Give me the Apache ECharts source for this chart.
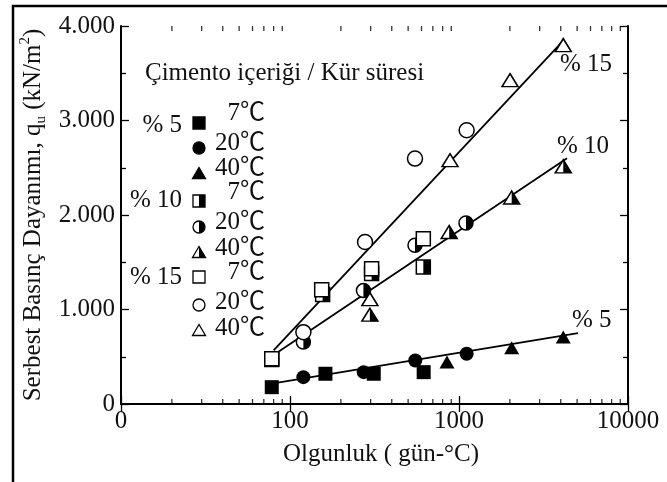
<!DOCTYPE html>
<html><head><meta charset="utf-8">
<script src="https://cdn.jsdelivr.net/npm/echarts@6/dist/echarts.min.js"></script>
<style>html,body{margin:0;padding:0;background:#fff}#c{width:667px;height:482px}</style>
</head><body><div id="c"></div>
<script>
const FONT = "'Liberation Serif','Times New Roman','Noto Sans CJK JP',serif";
const FS = 25;
const TXT = '#111';

// axis ticks / labels
const xTicks = [10, 100, 1000, 10000];
const xTickLabels = ['0', '100', '1000', '10000'];
const yTicks = [0, 1000, 2000, 3000, 4000];
const yTickLabels = ['0', '1.000', '2.000', '3.000', '4.000'];
const xMinorTicks = [20,30,40,50,60,70,80,90,200,300,400,500,600,700,800,900,2000,3000,4000,5000,6000,7000,8000,9000];

// data: [maturity (gün-°C), qu (kN/m2)]
const c5_t7   = [[78,178],[162,320],[313,320],[618,337]];
const c5_t20  = [[120,284],[273,337],[551,461],[1110,532]];
const c5_t40  = [[849,445],[2050,595],[4140,708]];
const c10_t7  = [[78,470],[156,1160],[304,1380],[615,1449]];
const c10_t20 = [[120,655],[272,1200],[549,1680],[1100,1915]];
const c10_t40 = [[297,945],[875,1820],[2050,2185],[4140,2515]];
const c15_t7  = [[78,478],[154,1210],[304,1430],[615,1750]];
const c15_t20 = [[120,760],[278,1714],[549,2597],[1110,2897]];
const c15_t40 = [[297,1110],[885,2580],[2004,3427],[4140,3798]];
// fitted lines
const fit5  = [[78,215],[5060,750]];
const fit10 = [[76,493],[4355,2601]];
const fit15 = [[80,567],[4064,3829]];

const chart = echarts.init(document.getElementById('c'));

const SQ = 14, CI = 14, TR = [16,13];
const HALF_SQ = 'path://M0,0L1,0L1,2L0,2Z';
const HALF_CI = 'path://M0,0A1,1 0 0 1 0,2Z';
const HALF_TR = 'path://M0,0L1,2L0,2Z';

function lineSeries(d) {
  return {type:'line', data:d, symbol:'none', silent:true, z:2,
    lineStyle:{color:'#000', width:1.8}};
}
function filled(d, sym, size) {
  return {type:'scatter', data:d, symbol:sym, symbolSize:size, z:5, silent:true,
    itemStyle:{color:'#000', opacity:1}};
}
function open(d, sym, size, z) {
  return {type:'scatter', data:d, symbol:sym, symbolSize:size, z:z||4, silent:true,
    itemStyle:{color:'#fff', borderColor:'#000', borderWidth:1.5, opacity:1}};
}
function half(d, sym, size, z) {
  return {type:'scatter', data:d, symbol:sym, symbolSize:[size[0]/2, size[1]],
    symbolOffset:[size[0]/4, 0], z:z, silent:true,
    itemStyle:{color:'#000', opacity:1}};
}

const series = [
  lineSeries(fit5), lineSeries(fit10), lineSeries(fit15),
  // % 10 (half filled)
  open(c10_t7, 'rect', SQ, 3), half(c10_t7, HALF_SQ, [SQ,SQ], 3.1),
  open(c10_t20, 'circle', CI, 3), half(c10_t20, HALF_CI, [CI,CI], 3.1),
  open(c10_t40, 'triangle', TR, 3), half(c10_t40, HALF_TR, TR, 3.1),
  // % 15 (open)
  open(c15_t7, 'rect', SQ, 4), open(c15_t20, 'circle', 15, 4), open(c15_t40, 'triangle', TR, 4),
  // % 5 (filled)
  filled(c5_t7, 'rect', SQ), filled(c5_t20, 'circle', CI), filled(c5_t40, 'triangle', [15,13]),
  // minor ticks on bottom / top x axes
  {type:'scatter', data:xMinorTicks.map(v=>[v,0]), symbol:'rect', symbolSize:[1.3,5],
    symbolOffset:[0,-2.5], clip:false, silent:true, z:6, itemStyle:{color:'#000'}},
  {type:'scatter', data:xMinorTicks.map(v=>[v,4000]), symbol:'rect', symbolSize:[1.3,5],
    symbolOffset:[0,2.5], clip:false, silent:true, z:6, itemStyle:{color:'#000'}}
];

// ---------- legend / annotations (graphic) ----------
const g = [];
function text(x, y, s, align, extra) {
  g.push(Object.assign({type:'text', x:x, y:y, z:10,
    style:{text:s, fontFamily:FONT, fontSize:FS, fill:TXT, align:align||'left', verticalAlign:'middle'}}, extra||{}));
}
const LX = 199, LS = 12;
function lgRect(y, mode) {
  g.push({type:'rect', z:10, shape:{x:LX-LS/2, y:y-LS/2, width:LS, height:LS},
    style:{fill: mode==='filled' ? '#000' : '#fff', stroke:'#000', lineWidth:1.3}});
  if (mode==='half') g.push({type:'rect', z:11, shape:{x:LX, y:y-LS/2, width:LS/2, height:LS}, style:{fill:'#000'}});
}
function lgCircle(y, mode) {
  g.push({type:'circle', z:10, shape:{cx:LX, cy:y, r:LS/2},
    style:{fill: mode==='filled' ? '#000' : '#fff', stroke:'#000', lineWidth:1.3}});
  if (mode==='half') g.push({type:'sector', z:11, shape:{cx:LX, cy:y, r:LS/2, startAngle:-Math.PI/2, endAngle:Math.PI/2}, style:{fill:'#000'}});
}
function lgTri(y, mode) {
  const w = 13, h = 11;
  g.push({type:'polygon', z:10, shape:{points:[[LX, y-h/2],[LX+w/2, y+h/2],[LX-w/2, y+h/2]]},
    style:{fill: mode==='filled' ? '#000' : '#fff', stroke:'#000', lineWidth:1.3}});
  if (mode==='half') g.push({type:'polygon', z:11, shape:{points:[[LX, y-h/2],[LX+w/2, y+h/2],[LX, y+h/2]]}, style:{fill:'#000'}});
}

text(145, 73, 'Çimento içeriği / Kür süresi');
const groupLabels = ['% 5', '% 10', '% 15'];
const groupY = [125, 200, 277];
const tempLabels = ['7℃', '20℃', '40℃'];
const tempY = [[113, 143, 168], [192, 222, 248], [272, 302, 328]];
const markY = [[123, 148, 173], [201, 227, 252], [277, 305, 330]];
const modes = ['filled', 'half', 'open'];
for (let i = 0; i < 3; i++) {
  text(182, groupY[i], groupLabels[i], 'right');
  for (let j = 0; j < 3; j++) text(265, tempY[i][j], tempLabels[j], 'right');
  lgRect(markY[i][0], modes[i]);
  lgCircle(markY[i][1], modes[i]);
  lgTri(markY[i][2], modes[i]);
}
// curve labels
text(560, 64, '% 15');
text(557, 146, '% 10');
text(572, 320, '% 5');

// axis titles
text(381, 454, 'Olgunluk ( gün-°C)', 'center');
g.push({type:'text', x:33, y:215, rotation:Math.PI/2, z:10,
  style:{text:'{m|Serbest Basınç Dayanımı, q}{sub|u}{m| (kN/m}{sup|2}{m|)}',
    fontFamily:FONT, fontSize:FS, fill:TXT, align:'center', verticalAlign:'middle',
    rich:{
      m:{fontFamily:FONT, fontSize:FS, fill:TXT, lineHeight:31, verticalAlign:'middle'},
      sub:{fontFamily:FONT, fontSize:15, fill:TXT, verticalAlign:'bottom', lineHeight:15},
      sup:{fontFamily:FONT, fontSize:15, fill:TXT, verticalAlign:'top', lineHeight:17}
    }}});
// outer frame
g.push({type:'rect', z:0, shape:{x:13, y:6, width:700, height:500},
  style:{fill:'none', stroke:'#000', lineWidth:2.5}});

const axisLineStyle = {color:'#000', width:2};
chart.setOption({
  animation:false,
  backgroundColor:'#fff',
  grid:{left:121, right:39, top:26, bottom:78},
  xAxis:[
    {type:'log', logBase:10, min:10, max:10000, position:'bottom',
      axisLine:{show:true, lineStyle:axisLineStyle},
      axisTick:{show:true, inside:true, length:8, lineStyle:{color:'#000', width:1.3}},
      axisLabel:{show:true, margin:5, color:TXT, fontFamily:FONT, fontSize:FS,
        formatter:v => { const i = xTicks.indexOf(Math.round(v)); return i>=0 ? xTickLabels[i] : ''; }},
      splitLine:{show:false}},
    {type:'log', logBase:10, min:10, max:10000, position:'top',
      axisLine:{show:true, lineStyle:axisLineStyle},
      axisTick:{show:true, inside:true, length:8, lineStyle:{color:'#000', width:1.3}},
      axisLabel:{show:false}, splitLine:{show:false}}
  ],
  yAxis:[
    {type:'value', min:0, max:4000, interval:1000, position:'left',
      axisLine:{show:true, lineStyle:axisLineStyle},
      axisTick:{show:true, inside:true, length:8, lineStyle:{color:'#000', width:1.3}},
      minorTick:{show:true, splitNumber:2, length:5, lineStyle:{color:'#000', width:1.3}},
      axisLabel:{show:true, margin:6, color:TXT, fontFamily:FONT, fontSize:FS,
        formatter:v => { const i = yTicks.indexOf(v); return i>=0 ? yTickLabels[i] : ''; }},
      splitLine:{show:false}},
    {type:'value', min:0, max:4000, interval:1000, position:'right',
      axisLine:{show:true, lineStyle:axisLineStyle},
      axisTick:{show:true, inside:true, length:8, lineStyle:{color:'#000', width:1.3}},
      minorTick:{show:true, splitNumber:2, length:5, lineStyle:{color:'#000', width:1.3}},
      axisLabel:{show:false}, splitLine:{show:false}}
  ],
  graphic:g,
  series:series
});
</script></body></html>
